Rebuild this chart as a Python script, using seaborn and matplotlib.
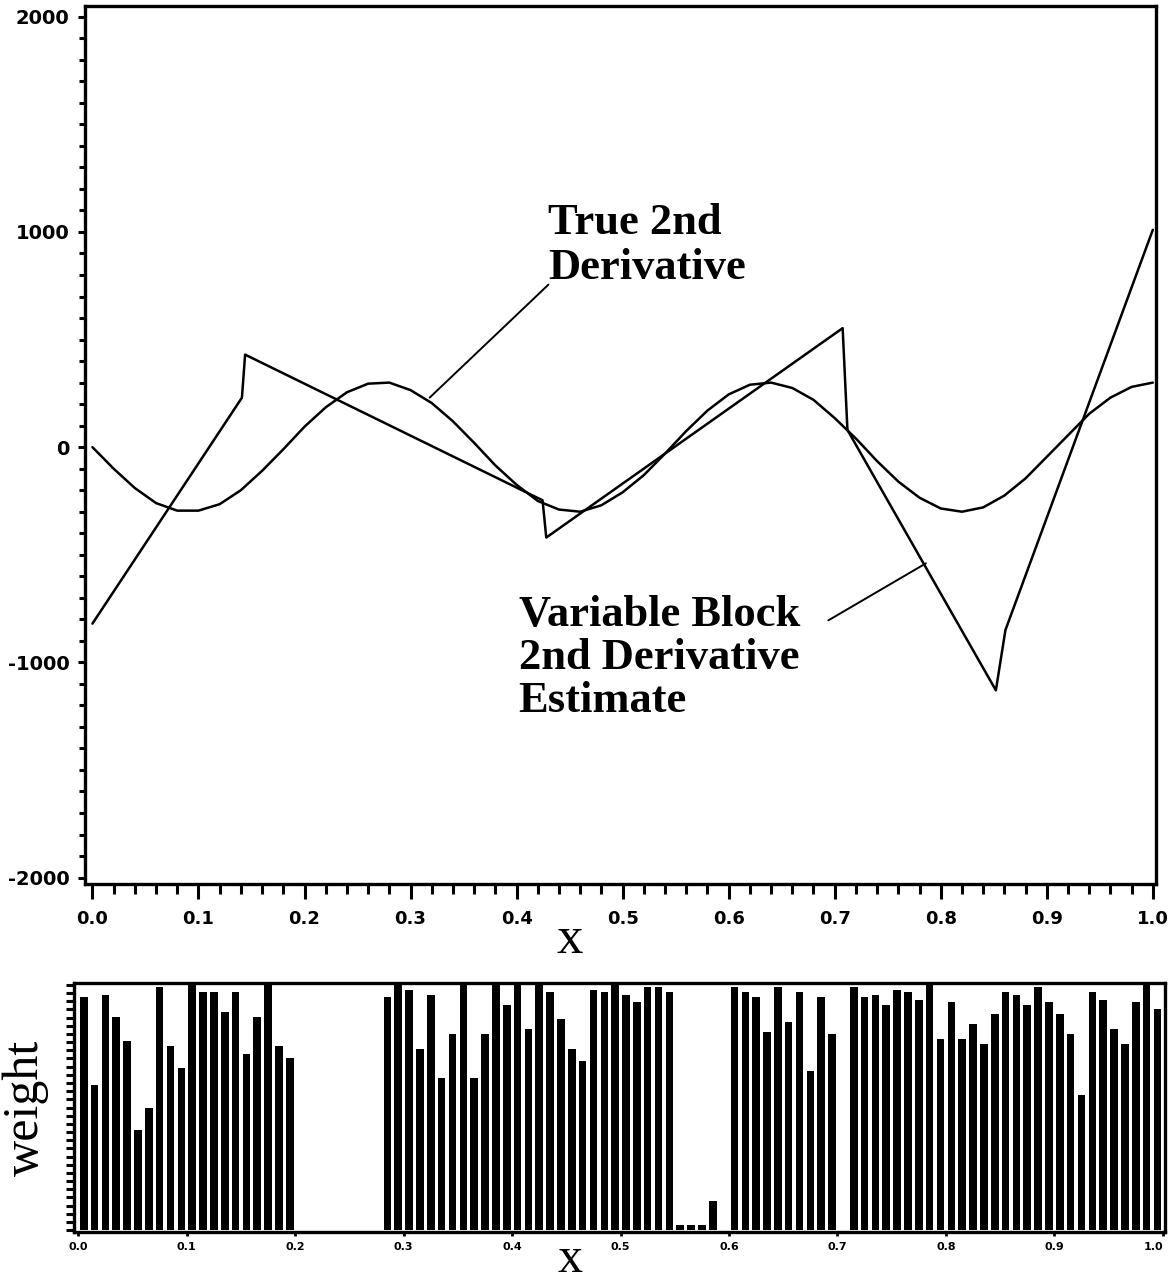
import numpy as np
import pandas as pd
import matplotlib
matplotlib.use("Agg")
import matplotlib.pyplot as plt
from matplotlib.ticker import MultipleLocator, FixedLocator
import seaborn as sns

## True 2nd derivative, every 0.02
x_true = [0.00, 0.02, 0.04, 0.06, 0.08, 0.10, 0.12, 0.14, 0.16, 0.18,
          0.20, 0.22, 0.24, 0.26, 0.28, 0.30, 0.32, 0.34, 0.36, 0.38,
          0.40, 0.42, 0.44, 0.46, 0.48, 0.50, 0.52, 0.54, 0.56, 0.58,
          0.60, 0.62, 0.64, 0.66, 0.68, 0.70, 0.72, 0.74, 0.76, 0.78,
          0.80, 0.82, 0.84, 0.86, 0.88, 0.90, 0.92, 0.94, 0.96, 0.98, 1.00]
y_true = [0, -100, -190, -260, -295, -295, -265, -200, -110, -10,
          95, 185, 255, 295, 300, 265, 205, 120, 20, -85,
          -175, -250, -290, -300, -270, -210, -130, -30, 75, 170,
          245, 290, 300, 275, 220, 135, 40, -65, -160, -235,
          -285, -300, -280, -225, -145, -45, 55, 155, 230, 280, 300]

## Variable block 2nd derivative estimate (linear pieces with jumps)
x_block = [0.000, 0.141, 0.144, 0.4245, 0.428, 0.7075, 0.712, 0.852, 0.861, 1.000]
y_block = [-820, 230, 430, -247, -420, 553, 80, -1130, -850, 1010]

## Block weights, one bar per 0.01 in x
weight = [0.95, 0.59, 0.96, 0.87, 0.77, 0.41, 0.50, 0.99, 0.75, 0.66,
          1.00, 0.97, 0.97, 0.89, 0.97, 0.72, 0.87, 1.00, 0.75, 0.70,
          0, 0, 0, 0, 0, 0, 0, 0,
          0.95, 1.00, 0.98, 0.74, 0.96, 0.62, 0.80, 1.00, 0.62, 0.80,
          1.00, 0.92, 1.00, 0.82, 1.00, 0.97, 0.86, 0.74, 0.69, 0.98,
          0.97, 1.00, 0.96, 0.93, 0.99, 0.99, 0.97,
          0.02, 0.02, 0.02, 0.12, 0,
          0.99, 0.97, 0.95, 0.81,
          0.99, 0.85, 0.97, 0.65, 0.95, 0.80, 0, 0.99, 0.95, 0.96,
          0.92, 0.98, 0.97, 0.94, 1.00, 0.78, 0.93, 0.78, 0.84, 0.76,
          0.88, 0.97, 0.96, 0.92, 0.99, 0.93, 0.88, 0.80, 0.55, 0.97,
          0.94, 0.82, 0.76, 0.93, 1.00, 0.90]
bar_x = np.round((np.arange(len(weight)) + 0.5) / 100, 3)

xtick_labels = ["0.0", "0.1", "0.2", "0.3", "0.4", "0.5", "0.6", "0.7", "0.8", "0.9", "1.0"]
ytick_vals = [-2000, -1000, 0, 1000, 2000]

sns.set_style("ticks")
plt.rcParams["font.family"] = ["DejaVu Sans"]
for k in ["text.color", "axes.labelcolor", "xtick.color", "ytick.color", "axes.edgecolor"]:
    plt.rcParams[k] = "black"

W, H = 1168, 1285
fig = plt.figure(figsize=(W / 100, H / 100), dpi=100)

## top panel
ax = fig.add_axes([85 / W, 1 - 884 / H, (1156 - 85) / W, (884 - 6) / H])
sns.lineplot(x=x_true, y=y_true, ax=ax, sort=False, estimator=None, color="black", lw=1.8)
sns.lineplot(x=x_block, y=y_block, ax=ax, sort=False, estimator=None, color="black", lw=1.8)
ax.set_xlim(-0.007, 1.003)
ax.set_ylim(-2030, 2050)
ax.set_xticks(np.linspace(0, 1, 11))
ax.set_xticklabels(xtick_labels, fontsize=13, fontweight="bold")
ax.xaxis.set_minor_locator(MultipleLocator(0.02))
ax.set_yticks(ytick_vals)
ax.set_yticklabels([str(v) for v in ytick_vals], fontsize=14, fontweight="bold")
ax.yaxis.set_minor_locator(MultipleLocator(100))
ax.tick_params(axis="x", which="major", length=11, width=2.2, pad=8)
ax.tick_params(axis="x", which="minor", length=7, width=2.2)
ax.tick_params(axis="y", which="major", length=5, width=2.2, pad=6)
ax.tick_params(axis="y", which="minor", length=4, width=2.2)
ax.set_xlabel("")
ax.set_ylabel("")
for s in ax.spines.values():
    s.set_linewidth(2.4)

serif = ["Liberation Serif", "DejaVu Serif"]
ax.text(0.430, 1135, "True 2nd\nDerivative", family=serif, fontweight="bold",
        fontsize=32, ha="left", va="top", linespacing=1.15)
ax.annotate("", xy=(0.318, 230), xytext=(0.430, 755),
            arrowprops=dict(arrowstyle="-", lw=1.4, color="black", shrinkA=0, shrinkB=0))
ax.text(0.402, -685, "Variable Block\n2nd Derivative\nEstimate", family=serif, fontweight="bold",
        fontsize=32, ha="left", va="top", linespacing=1.1)
ax.annotate("", xy=(0.786, -540), xytext=(0.694, -805),
            arrowprops=dict(arrowstyle="-", lw=1.4, color="black", shrinkA=0, shrinkB=0))
fig.text(570 / W, 1 - 940 / H, "x", family=serif, fontsize=38, ha="center", va="center")

## bottom panel: weights
ax2 = fig.add_axes([74 / W, 1 - 1232 / H, (1165 - 74) / W, (1232 - 983) / H])
df = pd.DataFrame({"x": bar_x, "weight": weight})
sns.barplot(data=df, x="x", y="weight", native_scale=True, width=0.7, color="black",
            saturation=1, linewidth=0, errorbar=None, ax=ax2)
ax2.set_xlim(-0.004, 1.002)
ax2.set_ylim(-0.008, 1.008)
ax2.set_xticks(np.linspace(0, 1, 11))
ax2.set_xticklabels(xtick_labels, fontsize=8, fontweight="bold")
ax2.get_xticklabels()[-1].set_horizontalalignment("right")
ax2.yaxis.set_major_locator(FixedLocator(np.linspace(0, 1, 31)))
ax2.set_yticklabels([])
ax2.tick_params(axis="x", length=3, width=2, pad=4)
ax2.tick_params(axis="y", length=6, width=2.2)
ax2.set_xlabel("")
ax2.set_ylabel("")
for s in ax2.spines.values():
    s.set_linewidth(2.4)
fig.text(26 / W, 1 - 1108 / H, "weight", family=serif, fontsize=36, rotation=90,
         ha="center", va="center")
fig.text(570 / W, 1 - 1260 / H, "x", family=serif, fontsize=36, ha="center", va="center")

plt.savefig("out.png", dpi=100)
